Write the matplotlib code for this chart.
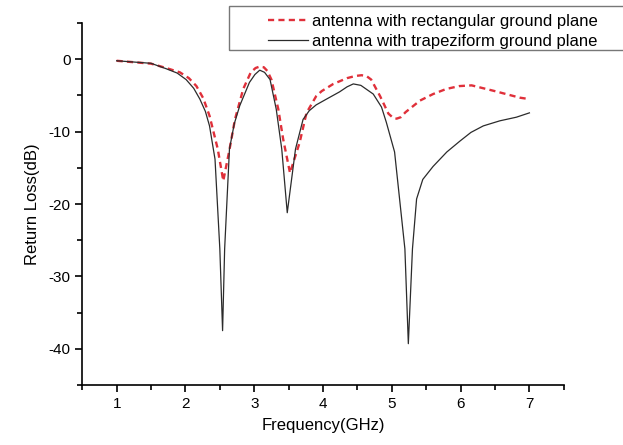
"""Return loss of the two antenna ground-plane variants."""

import matplotlib.pyplot as plt
from matplotlib.patches import Rectangle
from matplotlib.ticker import MultipleLocator

plt.rcParams["font.family"] = ["Liberation Sans", "DejaVu Sans"]
plt.rcParams["axes.unicode_minus"] = False

# rectangular ground plane (red dashed)
rect_freq = [1.0, 1.5, 1.72, 1.92, 2.05, 2.16, 2.26, 2.35, 2.47, 2.55, 2.64,
             2.72, 2.84, 2.95, 3.02, 3.08, 3.14, 3.19, 3.25, 3.35, 3.42,
             3.52, 3.66, 3.76, 3.90, 3.98, 4.15, 4.35, 4.47, 4.56, 4.63,
             4.70, 4.83, 4.95, 5.02, 5.07, 5.13, 5.20, 5.41, 5.60, 5.79,
             5.98, 6.16, 6.50, 6.86, 7.0]
rect_loss = [-0.2, -0.6, -1.2, -1.8, -2.6, -3.7, -5.4, -7.8, -12.4, -16.8,
             -12.5, -8.3, -4.1, -1.8, -1.2, -1.0, -1.1, -1.6, -2.8, -6.9,
             -11.0, -15.7, -11.5, -7.4, -5.1, -4.4, -3.4, -2.6, -2.3, -2.2,
             -2.3, -2.8, -5.1, -7.5, -8.1, -8.2, -8.0, -7.3, -5.7, -4.8,
             -4.1, -3.7, -3.6, -4.4, -5.3, -5.5]

# trapeziform ground plane (black solid)
trap_freq = [1.0, 1.5, 1.72, 1.88, 2.01, 2.12, 2.21, 2.29, 2.35, 2.43, 2.50,
             2.54, 2.57, 2.64, 2.71, 2.79, 2.93, 3.01, 3.08, 3.15, 3.23,
             3.32, 3.40, 3.48, 3.60, 3.71, 3.80, 3.90, 4.05, 4.24, 4.35,
             4.44, 4.55, 4.73, 4.85, 4.92, 5.04, 5.19, 5.24, 5.30, 5.36,
             5.45, 5.60, 5.80, 5.99, 6.15, 6.33, 6.57, 6.81, 7.0]
trap_loss = [-0.2, -0.55, -1.3, -1.9, -2.8, -4.0, -5.5, -7.2, -9.2, -13.8,
             -26.2, -37.5, -26.2, -12.4, -8.9, -6.4, -3.2, -2.1, -1.5, -1.8,
             -2.8, -6.9, -12.4, -21.2, -12.4, -8.3, -7.1, -6.3, -5.5, -4.5,
             -3.8, -3.4, -3.6, -4.8, -6.6, -8.7, -12.8, -26.2, -39.3, -26.2,
             -19.3, -16.6, -14.8, -12.8, -11.3, -10.1, -9.2, -8.5, -8.0,
             -7.4]

labels = ["antenna with rectangular ground plane",
          "antenna with trapeziform ground plane"]


def main() -> None:
    fig = plt.figure(figsize=(6.23, 4.45), dpi=100)
    ax = fig.add_axes([0.132, 0.135, 0.773, 0.813])

    ax.plot(rect_freq, rect_loss, color="#e0303a", lw=1.7,
            dashes=(2.6, 1.8), label=labels[0])
    ax.plot(trap_freq, trap_loss, color="#2b2b2b", lw=0.9, label=labels[1])

    ax.set_xlim(0.5, 7.5)
    ax.set_ylim(-45, 5)
    ax.xaxis.set_major_locator(MultipleLocator(1))
    ax.xaxis.set_minor_locator(MultipleLocator(0.5))
    ax.yaxis.set_major_locator(MultipleLocator(10))
    ax.yaxis.set_minor_locator(MultipleLocator(5))
    ax.spines["top"].set_visible(False)
    ax.spines["right"].set_visible(False)
    for side in ("left", "bottom"):
        ax.spines[side].set_linewidth(1.2)
    ax.tick_params(which="major", direction="out", length=5, width=1.2,
                   labelsize=11)
    ax.tick_params(which="minor", direction="out", length=3.5, width=1.2)
    ax.set_xlabel("Frequency(GHz)", fontsize=12, labelpad=5)
    ax.set_ylabel("Return Loss(dB)", fontsize=12, labelpad=6)

    # legend frame runs off the right edge, as in the source figure
    fig.patches.append(Rectangle((229 / 623, 1 - 50 / 445), 0.7, 44 / 445,
                                 transform=fig.transFigure, fill=False,
                                 edgecolor="#777777", lw=1.0))
    fig.legend(loc="upper left", bbox_to_anchor=(258 / 623, 1 - 4 / 445),
               frameon=False, fontsize=12, handlelength=2.4,
               handletextpad=0.25, labelspacing=0.28, borderpad=0.1)

    fig.savefig("out.png", dpi=100)
    plt.close(fig)


if __name__ == "__main__":
    main()
